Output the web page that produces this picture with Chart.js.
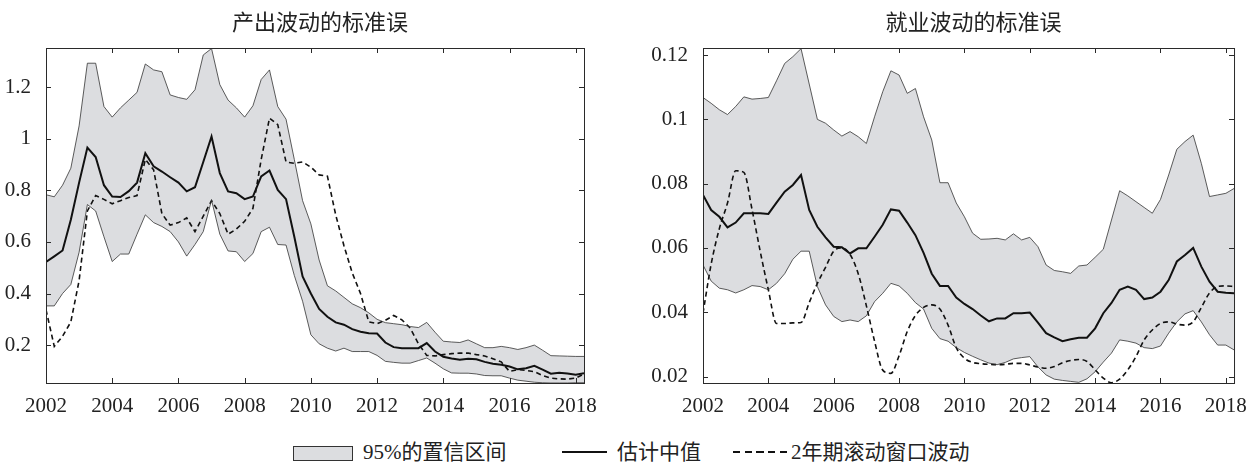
<!DOCTYPE html>
<html>
<head>
<meta charset="utf-8">
<script src="https://cdn.jsdelivr.net/npm/chart.js@4"></script>
<style>
  body { margin: 0; background: #fff; }
  #wrap { position: relative; width: 1252px; height: 463px; overflow: hidden; }
  canvas { position: absolute; top: 0; }
  #c1 { left: 0; }
  #c2 { left: 640px; }
  .lg { position: absolute; font-family: "Liberation Serif", "Noto Sans CJK SC", serif; font-size: 21px; color: #222; line-height: 24px; top: 440px; white-space: nowrap; }
  .box { position: absolute; left: 293px; top: 446px; width: 60px; height: 15px; box-sizing: border-box; background: #dcdde0; border: 1px solid #333; }
  .solid { position: absolute; left: 562px; top: 451px; width: 45px; height: 2px; background: #111; }
  .dash { position: absolute; left: 733px; top: 451px; width: 54px; height: 2px;
          background: repeating-linear-gradient(90deg, #111 0 7px, transparent 7px 11.75px); }
</style>
</head>
<body>
<div id="wrap">
  <canvas id="c1" width="610" height="420"></canvas>
  <canvas id="c2" width="610" height="420"></canvas>
  <div class="box"></div>
  <div class="lg" style="left:363px">95%的置信区间</div>
  <div class="solid"></div>
  <div class="lg" style="left:617px">估计中值</div>
  <div class="dash"></div>
  <div class="lg" style="left:791px">2年期滚动窗口波动</div>
</div>
<script>
// 季度 2002Q1 .. 2018Q2
const quarters = Array.from({ length: 66 }, (_, i) => 2002 + i / 4);
const yearTicks = [2002, 2004, 2006, 2008, 2010, 2012, 2014, 2016, 2018];

// 产出波动
const outUpper = [0.783, 0.775, 0.82, 0.886, 1.05, 1.293, 1.293, 1.125, 1.084, 1.12,
  1.15, 1.18, 1.29, 1.267, 1.26, 1.17, 1.16, 1.153, 1.19, 1.325,
  1.35, 1.21, 1.15, 1.12, 1.084, 1.128, 1.23, 1.267, 1.125, 1.076,
  0.92, 0.76, 0.67, 0.53, 0.43, 0.41, 0.385, 0.36, 0.345, 0.325,
  0.30, 0.287, 0.283, 0.279, 0.272, 0.268, 0.288, 0.25, 0.215, 0.212,
  0.21, 0.22, 0.205, 0.19, 0.19, 0.195, 0.19, 0.183, 0.19, 0.2,
  0.18, 0.159, 0.158, 0.157, 0.156, 0.156];
const outLower = [0.352, 0.352, 0.40, 0.435, 0.56, 0.745, 0.72, 0.62, 0.524, 0.553,
  0.553, 0.63, 0.705, 0.675, 0.66, 0.64, 0.60, 0.545, 0.59, 0.64,
  0.762, 0.63, 0.565, 0.562, 0.524, 0.555, 0.64, 0.657, 0.59, 0.588,
  0.47, 0.37, 0.24, 0.205, 0.188, 0.177, 0.188, 0.175, 0.175, 0.175,
  0.16, 0.137, 0.133, 0.13, 0.13, 0.14, 0.15, 0.13, 0.108, 0.092,
  0.091, 0.091, 0.088, 0.082, 0.081, 0.081, 0.072, 0.064, 0.06, 0.056,
  0.054, 0.053, 0.053, 0.053, 0.054, 0.054];
const outMedian = [0.522, 0.544, 0.567, 0.686, 0.83, 0.966, 0.929, 0.82, 0.776, 0.774,
  0.797, 0.83, 0.944, 0.893, 0.873, 0.851, 0.83, 0.796, 0.812, 0.91,
  1.009, 0.867, 0.796, 0.789, 0.766, 0.776, 0.854, 0.877, 0.802, 0.766,
  0.62, 0.466, 0.40, 0.34, 0.31, 0.288, 0.279, 0.262, 0.252, 0.246,
  0.245, 0.21, 0.192, 0.188, 0.188, 0.188, 0.208, 0.175, 0.155, 0.148,
  0.143, 0.147, 0.145, 0.135, 0.128, 0.124, 0.117, 0.106, 0.11, 0.12,
  0.105, 0.089, 0.093, 0.09, 0.085, 0.091];
const outRolling = [0.337, 0.195, 0.234, 0.29, 0.45, 0.72, 0.78, 0.765, 0.748, 0.76,
  0.772, 0.78, 0.92, 0.88, 0.71, 0.665, 0.675, 0.693, 0.64, 0.70,
  0.76, 0.71, 0.63, 0.65, 0.68, 0.73, 0.92, 1.08, 1.055, 0.91,
  0.905, 0.91, 0.89, 0.86, 0.855, 0.705, 0.585, 0.48, 0.40, 0.29,
  0.283, 0.296, 0.315, 0.298, 0.266, 0.205, 0.16, 0.158, 0.163, 0.167,
  0.169, 0.169, 0.163, 0.158, 0.147, 0.135, 0.098, 0.105, 0.102, 0.097,
  0.082, 0.072, 0.069, 0.068, 0.072, 0.088];

// 就业波动
const empUpper = [0.1068, 0.105, 0.103, 0.1015, 0.104, 0.107, 0.1063, 0.1065, 0.1068, 0.112,
  0.1174, 0.1195, 0.122, 0.111, 0.1, 0.0988, 0.0967, 0.0948, 0.0962, 0.0946,
  0.0925, 0.1008, 0.1086, 0.1151, 0.1138, 0.1081, 0.1096, 0.1008, 0.0936, 0.0803,
  0.0803, 0.074, 0.0697, 0.0646, 0.0627, 0.0628, 0.063, 0.0625, 0.0644, 0.0625,
  0.0633, 0.0604, 0.0547, 0.053, 0.0526, 0.0521, 0.0544, 0.0547, 0.0571, 0.0596,
  0.0687, 0.0778, 0.0762, 0.0744, 0.0726, 0.0708, 0.0751, 0.0827, 0.0907, 0.0931,
  0.0951, 0.0863, 0.076, 0.0765, 0.077, 0.0785];
const empLower = [0.0547, 0.0497, 0.0475, 0.047, 0.046, 0.047, 0.0483, 0.048, 0.047, 0.049,
  0.052, 0.0565, 0.059, 0.059, 0.048, 0.0423, 0.0387, 0.0371, 0.0376, 0.0371,
  0.0389, 0.0433, 0.0459, 0.049, 0.0482, 0.0459, 0.043, 0.041, 0.035, 0.0318,
  0.031, 0.029, 0.0275, 0.0263, 0.0252, 0.0242, 0.0237, 0.0244, 0.0255, 0.0259,
  0.0262, 0.023, 0.0205, 0.0192, 0.0188, 0.0185, 0.0182, 0.0193, 0.0215, 0.0245,
  0.0273, 0.0314, 0.031, 0.0304, 0.029, 0.0287, 0.0295, 0.0335, 0.037, 0.0395,
  0.0405, 0.037, 0.033, 0.0298, 0.0298, 0.0283];
const empMedian = [0.0765, 0.0718, 0.0697, 0.0664, 0.0679, 0.0708, 0.0708, 0.0708, 0.0706, 0.0741,
  0.0775, 0.0796, 0.0827, 0.0718, 0.0666, 0.0633, 0.0604, 0.0602, 0.0583, 0.0599,
  0.0599, 0.0635, 0.0672, 0.072, 0.0716, 0.0679, 0.064, 0.0585, 0.052, 0.0482,
  0.0482, 0.0446, 0.0426, 0.041, 0.039, 0.0372, 0.0381, 0.0381, 0.0397, 0.0397,
  0.0399, 0.0368, 0.0335, 0.0322, 0.031, 0.0316, 0.0321, 0.0321, 0.035, 0.0397,
  0.0429, 0.047, 0.048, 0.047, 0.0441, 0.0446, 0.0464, 0.05, 0.0558, 0.0578,
  0.06, 0.0542, 0.0495, 0.0464, 0.0461, 0.0459];
const empRolling = [0.0397, 0.055, 0.066, 0.074, 0.084, 0.0835, 0.072, 0.059, 0.047, 0.0365,
  0.0365, 0.0367, 0.0368, 0.043, 0.049, 0.054, 0.059, 0.060, 0.058, 0.052,
  0.042, 0.031, 0.022, 0.021, 0.0265, 0.034, 0.039, 0.0415, 0.0423, 0.041,
  0.036, 0.029, 0.0257, 0.0244, 0.024, 0.0238, 0.0237, 0.0238, 0.0241, 0.0241,
  0.0236, 0.023, 0.0226, 0.0231, 0.0243, 0.025, 0.0253, 0.0247, 0.0221, 0.0195,
  0.0181, 0.0192, 0.0221, 0.0262, 0.0314, 0.0345, 0.0365, 0.037, 0.0363, 0.036,
  0.037, 0.0415, 0.046, 0.048, 0.0482, 0.048];

const outTicks = [0.2, 0.4, 0.6, 0.8, 1, 1.2];
const empTicks = [0.02, 0.04, 0.06, 0.08, 0.1, 0.12];

// 边框、向内刻度和标题
const framePlugin = {
  id: 'frame',
  afterDraw(chart, args, opts) {
    const { ctx, chartArea: a, scales: { x, y } } = chart;
    const len = 5;
    ctx.save();
    ctx.strokeStyle = '#2a2a2a';
    ctx.lineWidth = 1;
    ctx.strokeRect(a.left + 0.5, a.top + 0.5, a.right - a.left, a.bottom - a.top);
    ctx.beginPath();
    x.ticks.forEach(t => {
      const px = Math.round(x.getPixelForValue(t.value)) + 0.5;
      ctx.moveTo(px, a.bottom); ctx.lineTo(px, a.bottom - len);
      ctx.moveTo(px, a.top); ctx.lineTo(px, a.top + len);
    });
    y.ticks.forEach(t => {
      const py = Math.round(y.getPixelForValue(t.value)) + 0.5;
      ctx.moveTo(a.left, py); ctx.lineTo(a.left + len, py);
      ctx.moveTo(a.right, py); ctx.lineTo(a.right - len, py);
    });
    ctx.stroke();
    ctx.font = '22px "Noto Sans CJK SC"';
    ctx.fillStyle = '#222';
    ctx.textAlign = 'center';
    ctx.textBaseline = 'middle';
    ctx.fillText(opts.text, (a.left + a.right) / 2 + 5, 22);
    ctx.restore();
  }
};

function makeChart(id, title, upper, lower, median, rolling, smoothRolling, yMin, yMax, yTicks, yWidth, padRight) {
  const tickFont = { family: 'Liberation Serif', size: 21 };
  return new Chart(document.getElementById(id), {
    type: 'line',
    data: {
      labels: quarters,
      datasets: [
        { data: upper, borderColor: '#333', borderWidth: 0.8, backgroundColor: '#dcdde0', fill: '+1' },
        { data: lower, borderColor: '#333', borderWidth: 0.8, fill: false },
        { data: median, borderColor: '#111', borderWidth: 2, fill: false },
        { data: rolling, borderColor: '#111', borderWidth: 1.6, borderDash: [5, 3.5], fill: false,
          cubicInterpolationMode: smoothRolling ? 'monotone' : 'default' }
      ]
    },
    options: {
      responsive: false,
      animation: false,
      elements: { point: { radius: 0 }, line: { tension: 0 } },
      layout: { padding: { left: 0, right: padRight, top: 48, bottom: 0 } },
      scales: {
        x: {
          type: 'linear',
          min: 2002,
          max: 2018.25,
          grid: { display: false },
          border: { display: false },
          afterBuildTicks: s => { s.ticks = yearTicks.map(v => ({ value: v })); },
          afterFit: s => { s.height = 37; },
          ticks: { font: tickFont, color: '#222', padding: 3, maxRotation: 0, callback: v => String(v) }
        },
        y: {
          min: yMin,
          max: yMax,
          grid: { display: false },
          border: { display: false },
          afterBuildTicks: s => { s.ticks = yTicks.map(v => ({ value: v })); },
          afterFit: s => { s.width = yWidth; },
          ticks: { font: tickFont, color: '#222', padding: 7, callback: v => String(+v.toFixed(3)) }
        }
      },
      plugins: {
        legend: { display: false },
        tooltip: { enabled: false },
        filler: { drawTime: 'beforeDatasetsDraw' },
        frame: { text: title }
      }
    },
    plugins: [framePlugin]
  });
}

makeChart('c1', '产出波动的标准误', outUpper, outLower, outMedian, outRolling, false, 0.053, 1.352, outTicks, 46, 26);
makeChart('c2', '就业波动的标准误', empUpper, empLower, empMedian, empRolling, true, 0.018, 0.1222, empTicks, 63, 10);
</script>
</body>
</html>
